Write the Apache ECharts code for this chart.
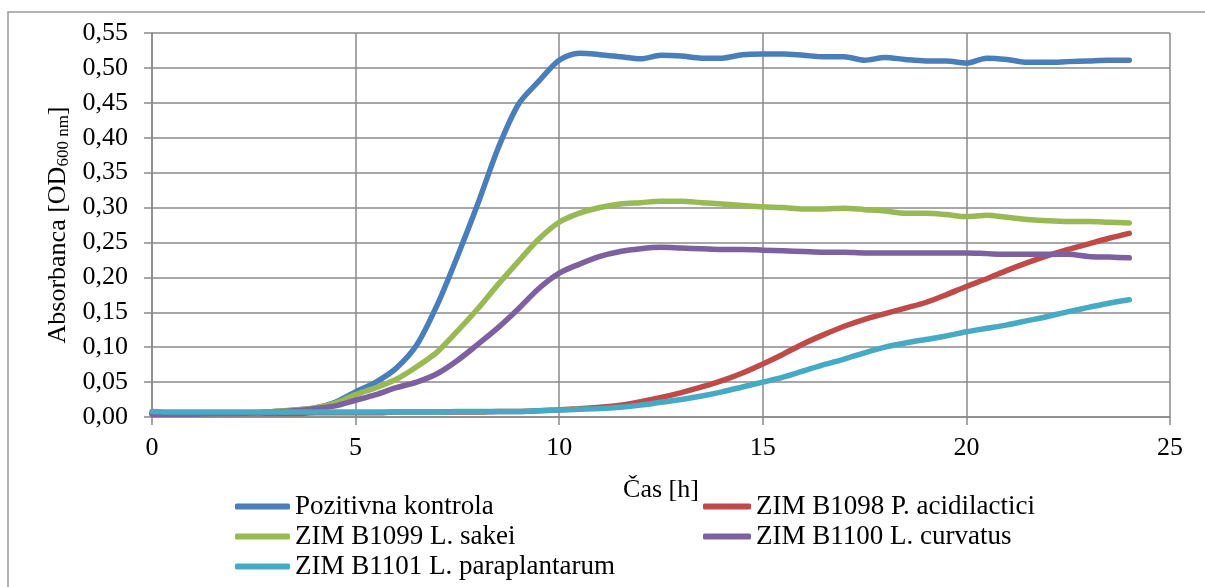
<!DOCTYPE html>
<html>
<head>
<meta charset="utf-8">
<script src="https://cdn.jsdelivr.net/npm/echarts@6/dist/echarts.min.js"></script>
<style>
  html, body { margin: 0; padding: 0; background: #fff; }
  #chart { width: 1205px; height: 587px; }
</style>
</head>
<body>
<div id="chart"></div>
<script>
// 时间点 (h)
const hours = [0, 0.5, 1, 1.5, 2, 2.5, 3, 3.5, 4, 4.5, 5, 5.5, 6, 6.5, 7, 7.5, 8, 8.5, 9, 9.5,
  10, 10.5, 11, 11.5, 12, 12.5, 13, 13.5, 14, 14.5, 15, 15.5, 16, 16.5, 17, 17.5, 18, 18.5, 19, 19.5,
  20, 20.5, 21, 21.5, 22, 22.5, 23, 23.5, 24];

const pozitivna = [0.005, 0.005, 0.005, 0.005, 0.006, 0.006, 0.008, 0.010, 0.013, 0.021, 0.036, 0.050, 0.070, 0.103, 0.160, 0.230, 0.305, 0.385, 0.448, 0.481,
  0.511, 0.521, 0.519, 0.516, 0.513, 0.518, 0.517, 0.514, 0.514, 0.519, 0.520, 0.520, 0.518, 0.516, 0.516, 0.511, 0.515, 0.512, 0.510, 0.510,
  0.507, 0.514, 0.512, 0.508, 0.508, 0.509, 0.510, 0.511, 0.511];

const b1098 = [0.005, 0.005, 0.005, 0.005, 0.005, 0.005, 0.005, 0.005, 0.006, 0.006, 0.006, 0.006, 0.007, 0.007, 0.007, 0.007, 0.007, 0.008, 0.008, 0.009,
  0.010, 0.012, 0.014, 0.017, 0.022, 0.028, 0.035, 0.043, 0.052, 0.063, 0.076, 0.090, 0.105, 0.118, 0.130, 0.140, 0.148, 0.156, 0.164, 0.175,
  0.187, 0.198, 0.210, 0.221, 0.231, 0.240, 0.248, 0.256, 0.263];

const b1099 = [0.005, 0.005, 0.005, 0.005, 0.006, 0.006, 0.008, 0.010, 0.013, 0.020, 0.032, 0.042, 0.054, 0.072, 0.093, 0.123, 0.155, 0.190, 0.223, 0.255,
  0.279, 0.292, 0.300, 0.305, 0.307, 0.309, 0.309, 0.307, 0.305, 0.303, 0.301, 0.300, 0.298, 0.298, 0.299, 0.297, 0.295, 0.292, 0.292, 0.290,
  0.287, 0.289, 0.286, 0.283, 0.281, 0.280, 0.280, 0.279, 0.278];

const b1100 = [0.004, 0.004, 0.004, 0.005, 0.005, 0.006, 0.007, 0.009, 0.012, 0.016, 0.024, 0.032, 0.042, 0.050, 0.062, 0.081, 0.104, 0.128, 0.155, 0.184,
  0.206, 0.219, 0.230, 0.237, 0.241, 0.243, 0.242, 0.241, 0.240, 0.240, 0.239, 0.238, 0.237, 0.236, 0.236, 0.235, 0.235, 0.235, 0.235, 0.235,
  0.235, 0.234, 0.233, 0.233, 0.233, 0.233, 0.230, 0.229, 0.228];

const b1101 = [0.008, 0.007, 0.007, 0.007, 0.007, 0.007, 0.007, 0.007, 0.007, 0.007, 0.007, 0.007, 0.007, 0.007, 0.007, 0.008, 0.008, 0.008, 0.008, 0.009,
  0.010, 0.011, 0.012, 0.014, 0.017, 0.021, 0.025, 0.030, 0.036, 0.043, 0.050, 0.057, 0.066, 0.075, 0.083, 0.092, 0.100, 0.106, 0.111, 0.116,
  0.122, 0.127, 0.132, 0.138, 0.144, 0.151, 0.157, 0.163, 0.168];

const seriesNames = ['Pozitivna kontrola', 'ZIM B1098 P. acidilactici', 'ZIM B1099 L. sakei', 'ZIM B1100 L. curvatus', 'ZIM B1101 L. paraplantarum'];
const seriesValues = [pozitivna, b1098, b1099, b1100, b1101];
const colors = ['#4a7ebb', '#be4b48', '#98b954', '#7d60a0', '#46aac5'];

const font = "'Liberation Serif', 'Times New Roman', serif";
const gridColor = '#8a8a8a';

const chart = echarts.init(document.getElementById('chart'));

// 组装系列
const series = seriesNames.map((name, i) => ({
  name: name,
  type: 'line',
  smooth: 0.3,
  showSymbol: false,
  symbol: 'none',
  data: hours.map((h, j) => [h, seriesValues[i][j]]),
  lineStyle: { width: 5.5, color: colors[i], cap: 'round' },
  itemStyle: { color: colors[i] }
}));

const legendBase = {
  orient: 'vertical',
  icon: 'roundRect',
  itemHeight: 6,
  itemGap: 3,
  padding: 0,
  height: 120,
  textStyle: { fontSize: 27, fontFamily: font, color: '#000', lineHeight: 27 }
};

chart.setOption({
  animation: false,
  color: colors,
  grid: { left: 152, right: 35, top: 33, bottom: 170 },
  graphic: [{
    type: 'rect',
    shape: { x: 8, y: 12, width: 1400, height: 800 },
    style: { fill: 'none', stroke: '#9a9a9a', lineWidth: 1.5 },
    silent: true
  }],
  legend: [
    Object.assign({}, legendBase, {
      left: 235, top: 493, itemWidth: 55,
      data: [seriesNames[0], seriesNames[2], seriesNames[4]]
    }),
    Object.assign({}, legendBase, {
      left: 703, top: 493, itemWidth: 48,
      data: [seriesNames[1], seriesNames[3]]
    })
  ],
  xAxis: {
    type: 'value',
    min: 0, max: 25, interval: 5,
    name: 'Čas [h]',
    nameLocation: 'middle',
    nameGap: 60,
    nameTextStyle: { fontSize: 26, fontFamily: font, color: '#000' },
    axisLine: { lineStyle: { color: gridColor, width: 1.5 } },
    axisTick: { show: true, length: 8, lineStyle: { color: gridColor, width: 1.5 } },
    axisLabel: { fontSize: 26, fontFamily: font, color: '#000', margin: 18 },
    splitLine: { show: true, lineStyle: { color: gridColor, width: 1.5 } }
  },
  yAxis: {
    type: 'value',
    min: 0, max: 0.55, interval: 0.05,
    name: 'Absorbanca [OD{sub|600 nm}]',
    nameLocation: 'middle',
    nameGap: 78,
    nameTextStyle: {
      fontSize: 26, fontFamily: font, color: '#000',
      rich: {
        sub: { fontSize: 17, fontFamily: font, color: '#000', padding: [10, 0, 0, 0] }
      }
    },
    axisLine: { show: true, lineStyle: { color: gridColor, width: 1.5 } },
    axisTick: { show: true, length: 8, lineStyle: { color: gridColor, width: 1.5 } },
    axisLabel: {
      fontSize: 26, fontFamily: font, color: '#000', margin: 24,
      formatter: v => v.toFixed(2).replace('.', ',')
    },
    splitLine: { show: true, lineStyle: { color: gridColor, width: 1.5 } }
  },
  series: series
});

window.addEventListener('resize', function() {
  chart.resize();
});
</script>
</body>
</html>
